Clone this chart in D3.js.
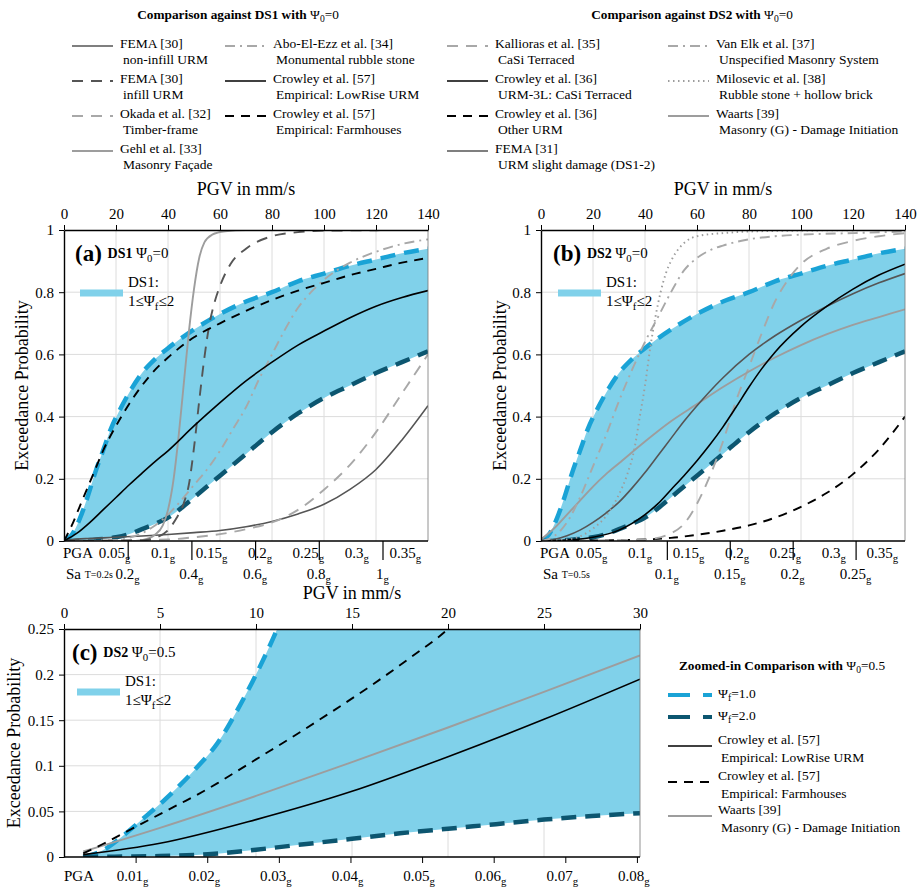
<!DOCTYPE html>
<html>
<head>
<meta charset="utf-8">
<script src="https://cdn.jsdelivr.net/npm/d3@7"></script>
<style>
  body { margin: 0; background: #fff; }
  svg text { font-family: "Liberation Serif", "Times New Roman", serif; fill: #000; }
</style>
</head>
<body>
<svg id="chart" width="921" height="889"></svg>
<script>
// ---- data: [PGV mm/s, exceedance probability] ----
// band DS1, 1 <= psi_f <= 2 (panels a, b)
const psi1 = [[0,0],[3,0.02],[6,0.07],[9,0.14],[12,0.22],[15,0.29],[18,0.36],[22,0.43],[26,0.49],[30,0.54],[35,0.585],[40,0.62],[50,0.68],[60,0.73],[70,0.77],[80,0.80],[90,0.835],[100,0.86],[110,0.885],[120,0.905],[130,0.925],[140,0.94]];
const psi2 = [[0,0],[10,0.003],[20,0.012],[25,0.022],[30,0.038],[35,0.055],[40,0.075],[45,0.105],[50,0.14],[55,0.175],[60,0.21],[70,0.28],[80,0.35],[90,0.41],[100,0.46],[110,0.50],[120,0.54],[130,0.575],[140,0.61]];

// panel (a) references, DS1
const femaNonInfill = [[0,0],[5,0.006],[10,0.008],[20,0.012],[30,0.016],[40,0.021],[50,0.027],[60,0.034],[70,0.046],[80,0.063],[90,0.087],[100,0.118],[110,0.166],[120,0.23],[130,0.325],[140,0.435]];
const femaInfill = [[0,0],[30,0.002],[35,0.01],[40,0.035],[43,0.07],[46,0.12],[48,0.18],[50,0.3],[52,0.45],[54,0.59],[56,0.7],[58,0.77],[60,0.82],[64,0.89],[70,0.94],[80,0.98],[90,0.993],[100,0.998],[140,1]];
const okada = [[0,0],[40,0.005],[50,0.012],[60,0.022],[70,0.038],[80,0.06],[90,0.1],[100,0.165],[110,0.245],[120,0.35],[130,0.475],[140,0.60]];
const gehl = [[0,0],[25,0],[30,0.003],[35,0.02],[38,0.05],[40,0.1],[42,0.19],[44,0.33],[46,0.5],[48,0.67],[50,0.81],[52,0.91],[54,0.96],[57,0.985],[62,0.996],[70,1],[140,1]];
const aboElEzz = [[0,0],[20,0.003],[25,0.01],[30,0.025],[35,0.05],[40,0.085],[45,0.13],[50,0.18],[55,0.23],[60,0.29],[65,0.36],[70,0.43],[75,0.52],[80,0.60],[85,0.68],[90,0.75],[95,0.8],[100,0.84],[110,0.895],[120,0.93],[130,0.955],[140,0.97]];
const crowleyLowRise = [[0,0],[5,0.025],[10,0.06],[15,0.1],[20,0.14],[25,0.18],[30,0.218],[35,0.255],[40,0.29],[50,0.37],[60,0.445],[70,0.515],[80,0.575],[90,0.63],[100,0.675],[110,0.718],[120,0.755],[130,0.783],[140,0.805]];
const crowleyFarm = [[0,0],[3,0.05],[6,0.11],[9,0.17],[12,0.23],[15,0.29],[20,0.37],[25,0.44],[30,0.5],[35,0.55],[40,0.59],[50,0.655],[60,0.7],[70,0.74],[80,0.775],[90,0.805],[100,0.83],[110,0.855],[120,0.875],[130,0.895],[140,0.91]];

// panel (b) references, DS2
const kallioras = [[0,0],[40,0.005],[50,0.025],[55,0.055],[60,0.12],[65,0.21],[70,0.32],[75,0.45],[80,0.56],[85,0.67],[90,0.77],[95,0.84],[100,0.89],[110,0.94],[120,0.965],[130,0.98],[140,0.99]];
const crowleyCaSi = [[0,0],[10,0.003],[20,0.012],[30,0.035],[40,0.085],[45,0.12],[50,0.165],[55,0.21],[60,0.258],[65,0.31],[70,0.367],[75,0.43],[80,0.495],[85,0.555],[90,0.607],[100,0.69],[110,0.755],[120,0.81],[130,0.855],[140,0.89]];
const crowleyOther = [[0,0],[40,0.005],[50,0.01],[60,0.02],[70,0.033],[80,0.05],[90,0.075],[100,0.11],[110,0.155],[120,0.215],[130,0.295],[140,0.40]];
const fema31 = [[0,0],[5,0.005],[10,0.017],[15,0.035],[20,0.06],[25,0.09],[30,0.125],[35,0.17],[40,0.22],[45,0.275],[50,0.33],[55,0.385],[60,0.435],[70,0.525],[80,0.6],[90,0.66],[100,0.71],[110,0.755],[120,0.795],[130,0.83],[140,0.86]];
const vanElk = [[0,0],[5,0.015],[10,0.06],[15,0.14],[20,0.24],[25,0.34],[30,0.45],[35,0.55],[40,0.64],[45,0.72],[50,0.8],[55,0.87],[60,0.91],[65,0.935],[70,0.95],[80,0.97],[90,0.98],[100,0.985],[120,0.99],[140,0.995]];
const milosevic = [[0,0],[10,0.005],[15,0.015],[20,0.04],[25,0.08],[30,0.15],[33,0.21],[36,0.3],[38,0.4],[40,0.5],[42,0.62],[44,0.72],[46,0.8],[48,0.86],[50,0.9],[53,0.94],[56,0.965],[60,0.98],[70,0.99],[90,0.997],[140,1]];
const waarts = [[0,0.005],[5,0.04],[10,0.085],[15,0.13],[20,0.175],[25,0.215],[30,0.25],[40,0.32],[50,0.385],[60,0.44],[70,0.495],[80,0.545],[90,0.59],[100,0.63],[110,0.665],[120,0.695],[130,0.72],[140,0.745]];

// panel (c), zoomed, psi_0 = 0.5
const psi1Zoom = [[1,0],[2,0.007],[3,0.022],[4,0.04],[5,0.058],[6,0.078],[7,0.1],[8,0.125],[9,0.16],[10,0.2],[11,0.245],[11.5,0.27]];
const psi2Zoom = [[1,0],[3,0.0005],[5,0.001],[7.5,0.003],[10,0.008],[12.5,0.014],[15,0.02],[17.5,0.026],[20,0.031],[22.5,0.036],[25,0.041],[27.5,0.045],[30,0.048]];
const crowleyFarmZoom = [[1,0.004],[2,0.014],[3,0.025],[4,0.036],[5,0.047],[6,0.058],[7,0.069],[8,0.081],[9,0.094],[10,0.107],[12,0.133],[14,0.16],[16,0.188],[18,0.218],[20,0.25],[20.5,0.26]];
const crowleyLowRiseZoom = [[1,0.0026],[5,0.015],[10,0.041],[15,0.072],[20,0.11],[25,0.151],[30,0.195]];
const waartsZoom = [[1,0.006],[5,0.032],[10,0.067],[15,0.104],[20,0.142],[25,0.181],[30,0.221]];

// tick labels
const pgvTicks = [0, 20, 40, 60, 80, 100, 120, 140];
const pgvTicksZoom = [0, 5, 10, 15, 20, 25, 30];
const probTicks = [0, 0.2, 0.4, 0.6, 0.8, 1];
const probTicksZoom = [0, 0.05, 0.1, 0.15, 0.2, 0.25];
const pgaTicks = [0.05, 0.1, 0.15, 0.2, 0.25, 0.3, 0.35];
const pgaTicksZoom = [0.01, 0.02, 0.03, 0.04, 0.05, 0.06, 0.07, 0.08];
const saTicksA = [0.2, 0.4, 0.6, 0.8, 1];
const saTicksB = [0.1, 0.15, 0.2, 0.25];
// mm/s of PGV per g
const pgvPerPga = 373, pgvPerSaA = 122.5, pgvPerSaB = 484;

// ---- styles ----
const ST = {
  darkSolid:  { stroke: "#555", w: 1.6 },
  darkDash:   { stroke: "#555", w: 1.9, dash: "11,8" },
  lightDash:  { stroke: "#a8a8a8", w: 1.9, dash: "11,8" },
  lightSolid: { stroke: "#9d9d9d", w: 1.9 },
  lightDashDot: { stroke: "#a8a8a8", w: 1.9, dash: "10,5,2,5" },
  blackSolid: { stroke: "#000", w: 1.6 },
  blackDash:  { stroke: "#000", w: 1.9, dash: "9,7" },
  dotted:     { stroke: "#9d9d9d", w: 1.9, dash: "1.5,3.5" },
  psi1:       { stroke: "#1aa3d6", w: 4.5, dash: "15,9" },
  psi2:       { stroke: "#0c5670", w: 4.5, dash: "15,9" },
  band:       { stroke: "#80d1ea", w: 7 }
};
const bandFill = "#80d1ea";

const svg = d3.select("#chart");

function rich(g, x, y, parts, size, anchor) {
  const t = g.append("text").attr("x", x).attr("y", y)
    .attr("font-size", size).attr("text-anchor", anchor || "start")
    .attr("dominant-baseline", "central");
  let shift = 0;
  parts.forEach(p => {
    const ts = t.append("tspan").text(p.t);
    const target = p.sub ? size * 0.32 : 0;
    ts.attr("dy", target - shift);
    shift = target;
    if (p.sub) ts.attr("font-size", size * 0.72);
    if (p.fs) ts.attr("font-size", p.fs);
    if (p.b) ts.attr("font-weight", "bold");
  });
  return t;
}

function styled(sel, s) {
  sel.attr("fill", "none").attr("stroke", s.stroke).attr("stroke-width", s.w);
  if (s.dash) sel.attr("stroke-dasharray", s.dash);
  return sel;
}

function makePanel(cfg) {
  const x = d3.scaleLinear().domain([0, cfg.xMax]).range([cfg.left, cfg.right]);
  const y = d3.scaleLinear().domain([0, cfg.yMax]).range([cfg.bottom, cfg.top]);
  const g = svg.append("g");

  g.append("g").selectAll("line").data(cfg.xTicks.slice(1, -1)).join("line")
    .attr("x1", d => x(d)).attr("x2", d => x(d))
    .attr("y1", cfg.top).attr("y2", cfg.bottom)
    .attr("stroke", "#dcdcdc").attr("stroke-width", 1);
  g.append("g").selectAll("line").data(cfg.yTicks.slice(1, -1)).join("line")
    .attr("y1", d => y(d)).attr("y2", d => y(d))
    .attr("x1", cfg.left).attr("x2", cfg.right)
    .attr("stroke", "#dcdcdc").attr("stroke-width", 1);

  const id = "clip-" + cfg.name;
  svg.append("clipPath").attr("id", id).append("rect")
    .attr("x", cfg.left).attr("y", cfg.top)
    .attr("width", cfg.right - cfg.left).attr("height", cfg.bottom - cfg.top);
  const plot = g.append("g").attr("clip-path", `url(#${id})`);

  // right frame
  g.append("line").attr("x1", cfg.right).attr("x2", cfg.right)
    .attr("y1", cfg.top).attr("y2", cfg.bottom).attr("stroke", "#777").attr("stroke-width", 0.8);

  const top = g.append("g").attr("transform", `translate(0,${cfg.top})`)
    .call(d3.axisTop(x).tickValues(cfg.xTicks).tickSize(5).tickSizeOuter(0).tickPadding(6));
  const left = g.append("g").attr("transform", `translate(${cfg.left},0)`)
    .call(d3.axisLeft(y).tickValues(cfg.yTicks).tickSize(5).tickSizeOuter(0).tickPadding(5)
      .tickFormat(d3.format("~g")));
  [top, left].forEach(a => {
    a.attr("font-family", null);
    a.selectAll("text").attr("font-size", 15);
    a.select(".domain").attr("stroke-width", 1.4);
    a.selectAll(".tick line").attr("stroke-width", 1);
  });
  g.append("line").attr("x1", cfg.left).attr("x2", cfg.right)
    .attr("y1", cfg.bottom).attr("y2", cfg.bottom).attr("stroke", "#000").attr("stroke-width", 1.4);

  rich(g, (cfg.left + cfg.right) / 2, cfg.top - cfg.titleOff, [{ t: "PGV in mm/s" }], 18, "middle");
  g.append("text").attr("transform", `translate(${cfg.left - cfg.ylabOff},${(cfg.top + cfg.bottom) / 2}) rotate(-90)`)
    .attr("text-anchor", "middle").attr("dominant-baseline", "central")
    .attr("font-size", 18).text("Exceedance Probability");

  const line = d3.line().x(d => x(d[0])).y(d => y(d[1])).curve(d3.curveMonotoneX);
  return { x, y, g, plot, line, cfg };
}

function drawBand(p, upper, lower, extra) {
  const up = p.line(upper);
  const lo = p.line(lower.slice().reverse());
  const mid = extra ? `L${p.x(extra[0])},${p.y(extra[1])}` : "";
  p.plot.append("path").attr("d", up + mid + "L" + lo.slice(1) + "Z")
    .attr("fill", bandFill).attr("stroke", "none");
}

function drawCurve(p, data, s) {
  styled(p.plot.append("path").attr("d", p.line(data)), s);
}

function gLabel(g, x, y, val, size) {
  rich(g, x, y, [{ t: val }, { t: "g", sub: true }], size, "middle");
}

function panelTag(p, x, y, letter, ds, psi0) {
  rich(p.g, x, y, [{ t: `(${letter}) `, b: true, fs: 23 }, { t: ds + " ", b: true, fs: 14 },
    { t: "Ψ" }, { t: "0", sub: true }, { t: "=" + psi0 }], 15);
  const ly = y + 40;
  styled(p.g.append("line").attr("x1", x + 5).attr("x2", x + 48).attr("y1", ly).attr("y2", ly), ST.band);
  rich(p.g, x + 53, ly - 11, [{ t: "DS1:" }], 15);
  rich(p.g, x + 53, ly + 8, [{ t: "1≤Ψ" }, { t: "f", sub: true }, { t: "≤2" }], 15);
}

// ---- panel (a) ----
const pa = makePanel({ name: "a", left: 64, right: 428, top: 230, bottom: 541, xMax: 140, yMax: 1,
  xTicks: pgvTicks, yTicks: probTicks, ylabOff: 42, titleOff: 41 });
drawBand(pa, psi1, psi2);
[[psi1, ST.psi1], [psi2, ST.psi2], [femaNonInfill, ST.darkSolid], [okada, ST.lightDash],
 [aboElEzz, ST.lightDashDot], [gehl, ST.lightSolid], [femaInfill, ST.darkDash],
 [crowleyLowRise, ST.blackSolid], [crowleyFarm, ST.blackDash]].forEach(([d, s]) => drawCurve(pa, d, s));
panelTag(pa, 75, 253, "a", "DS1", "0");

// ---- panel (b) ----
const pb = makePanel({ name: "b", left: 541, right: 905, top: 230, bottom: 541, xMax: 140, yMax: 1,
  xTicks: pgvTicks, yTicks: probTicks, ylabOff: 41, titleOff: 41 });
drawBand(pb, psi1, psi2);
[[psi1, ST.psi1], [psi2, ST.psi2], [crowleyOther, ST.blackDash], [kallioras, ST.lightDash],
 [waarts, ST.lightSolid], [fema31, ST.darkSolid], [crowleyCaSi, ST.blackSolid],
 [vanElk, ST.lightDashDot], [milosevic, ST.dotted]].forEach(([d, s]) => drawCurve(pb, d, s));
panelTag(pb, 553, 253, "b", "DS2", "0");

// secondary bottom axes for (a) and (b)
function pgaSaAxes(p, saTicks, pgvPerSa, tLabel) {
  const pga = d3.scaleLinear().domain([0, 140 / pgvPerPga]).range(p.x.range());
  const sa = d3.scaleLinear().domain([0, 140 / pgvPerSa]).range(p.x.range());
  p.g.append("g").attr("transform", `translate(0,${p.cfg.bottom})`)
    .call(d3.axisBottom(sa).tickValues(saTicks).tickSize(19).tickFormat(""))
    .call(a => a.select(".domain").remove())
    .selectAll(".tick line").attr("stroke-width", 1.2);
  const x0 = p.cfg.left;
  rich(p.g, x0 - 1, 553, [{ t: "PGA" }], 15);
  pgaTicks.forEach(v => gLabel(p.g, pga(v) + 2, 553, d3.format("~g")(v), 15));
  rich(p.g, x0 + 2, 574, [{ t: "Sa " }, { t: tLabel, fs: 10 }], 15);
  saTicks.forEach(v => gLabel(p.g, sa(v), 574, d3.format("~g")(v), 15));
}
pgaSaAxes(pa, saTicksA, pgvPerSaA, "T=0.2s");
pgaSaAxes(pb, saTicksB, pgvPerSaB, "T=0.5s");

// ---- panel (c) ----
const pc = makePanel({ name: "c", left: 64, right: 640, top: 629, bottom: 857, xMax: 30, yMax: 0.25,
  xTicks: pgvTicksZoom, yTicks: probTicksZoom, ylabOff: 50, titleOff: 36 });
drawBand(pc, psi1Zoom, psi2Zoom, [30, 0.27]);
[[psi1Zoom, ST.psi1], [psi2Zoom, ST.psi2], [waartsZoom, ST.lightSolid],
 [crowleyLowRiseZoom, ST.blackSolid], [crowleyFarmZoom, ST.blackDash]].forEach(([d, s]) => drawCurve(pc, d, s));
panelTag(pc, 72, 652, "c", "DS2", "0.5");
{
  const pga = d3.scaleLinear().domain([0, 30 / pgvPerPga]).range(pc.x.range());
  pc.g.append("g").attr("transform", `translate(0,${pc.cfg.bottom})`)
    .call(d3.axisBottom(pga).tickValues(pgaTicksZoom).tickSize(6).tickFormat(""))
    .call(a => a.select(".domain").remove());
  rich(pc.g, 64, 876, [{ t: "PGA" }], 15);
  pgaTicksZoom.forEach(v => gLabel(pc.g, pga(v) - 3, 876, d3.format("~g")(v), 15));
}

// ---- legends ----
const legendDS1 = [
  { col: 0, row: 0, name: "FEMA [30]", desc: "non-infill URM", s: ST.darkSolid },
  { col: 0, row: 1, name: "FEMA [30]", desc: "infill URM", s: ST.darkDash },
  { col: 0, row: 2, name: "Okada et al. [32]", desc: "Timber-frame", s: ST.lightDash },
  { col: 0, row: 3, name: "Gehl et al. [33]", desc: "Masonry Façade", s: ST.lightSolid },
  { col: 1, row: 0, name: "Abo-El-Ezz et al. [34]", desc: "Monumental rubble stone", s: ST.lightDashDot },
  { col: 1, row: 1, name: "Crowley et al. [57]", desc: "Empirical: LowRise URM", s: ST.blackSolid },
  { col: 1, row: 2, name: "Crowley et al. [57]", desc: "Empirical: Farmhouses", s: ST.blackDash },
  { col: 2, row: 0, name: "Kallioras et al. [35]", desc: "CaSi Terraced", s: ST.lightDash },
  { col: 2, row: 1, name: "Crowley et al. [36]", desc: "URM-3L: CaSi Terraced", s: ST.blackSolid },
  { col: 2, row: 2, name: "Crowley et al. [36]", desc: "Other URM", s: ST.blackDash },
  { col: 2, row: 3, name: "FEMA [31]", desc: "URM slight damage (DS1-2)", s: ST.darkSolid },
  { col: 3, row: 0, name: "Van Elk et al. [37]", desc: "Unspecified Masonry System", s: ST.lightDashDot },
  { col: 3, row: 1, name: "Milosevic et al. [38]", desc: "Rubble stone + hollow brick", s: ST.dotted },
  { col: 3, row: 2, name: "Waarts [39]", desc: "Masonry (G) - Damage Initiation", s: ST.lightSolid }
];
const colX = [72, 225, 447, 668];
const lg = svg.append("g");
rich(lg, 238, 14, [{ t: "Comparison against DS1 with ", b: true }, { t: "Ψ" }, { t: "0", sub: true }, { t: "=0" }], 13.3, "middle");
rich(lg, 692, 14, [{ t: "Comparison against DS2 with ", b: true }, { t: "Ψ" }, { t: "0", sub: true }, { t: "=0" }], 13.3, "middle");
legendDS1.forEach(e => {
  const x0 = colX[e.col], y0 = 43 + e.row * 35;
  styled(lg.append("line").attr("x1", x0).attr("x2", x0 + 41).attr("y1", y0 + 3).attr("y2", y0 + 3), e.s);
  rich(lg, x0 + 48, y0, [{ t: e.name }], 13.5);
  rich(lg, x0 + 51, y0 + 16, [{ t: e.desc }], 13.5);
});

const legendZoom = [
  { y: 695, parts: [{ t: "Ψ" }, { t: "f", sub: true }, { t: "=1.0" }], s: ST.psi1 },
  { y: 717, parts: [{ t: "Ψ" }, { t: "f", sub: true }, { t: "=2.0" }], s: ST.psi2 },
  { y: 746, name: "Crowley et al. [57]", desc: "Empirical: LowRise URM", s: ST.blackSolid },
  { y: 782, name: "Crowley et al. [57]", desc: "Empirical: Farmhouses", s: ST.blackDash },
  { y: 816, name: "Waarts [39]", desc: "Masonry (G) - Damage Initiation", s: ST.lightSolid }
];
rich(lg, 782, 665, [{ t: "Zoomed-in Comparison with ", b: true }, { t: "Ψ" }, { t: "0", sub: true }, { t: "=0.5" }], 13.3, "middle");
legendZoom.forEach(e => {
  const s = e.parts ? Object.assign({}, e.s, { w: 4, dash: "22,13" }) : e.s;
  styled(lg.append("line").attr("x1", 668).attr("x2", 712).attr("y1", e.y).attr("y2", e.y), s);
  if (e.parts) rich(lg, 718, e.y - 2, e.parts, 13.5);
  else {
    rich(lg, 718, e.y - 7, [{ t: e.name }], 13.5);
    rich(lg, 721, e.y + 11, [{ t: e.desc }], 13.5);
  }
});
</script>
</body>
</html>
